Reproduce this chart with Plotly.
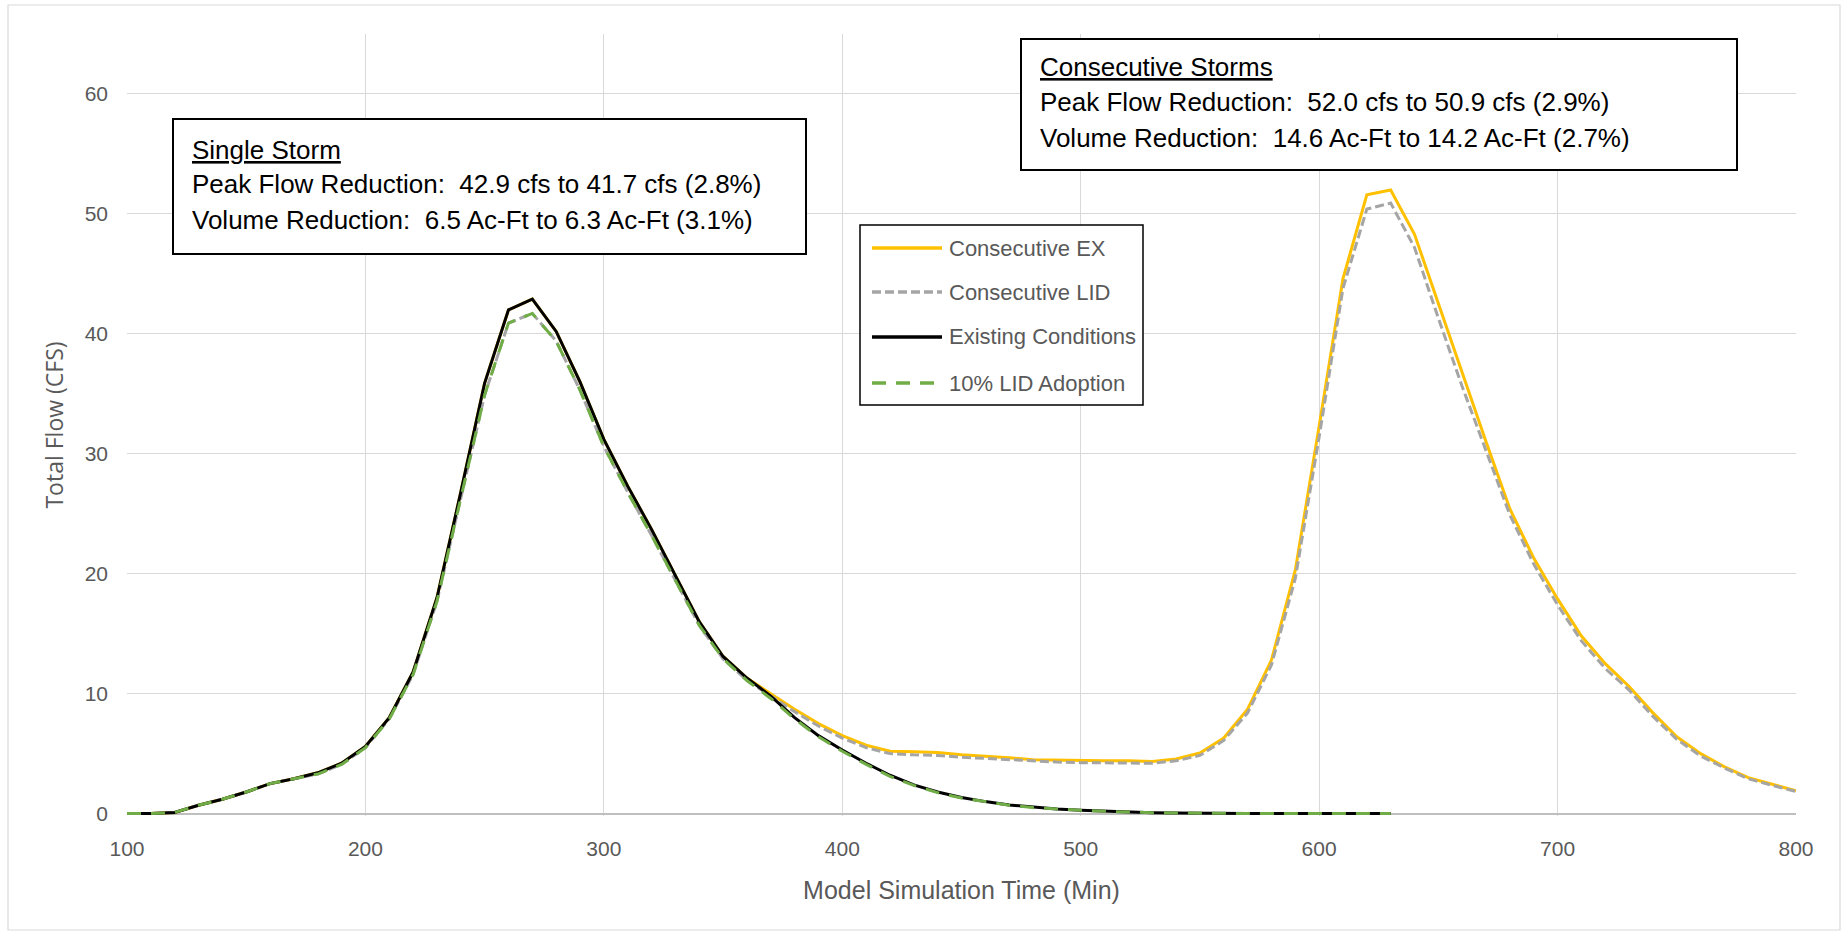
import plotly.graph_objects as go

# ---- data -------------------------------------------------------------
time_single = list(range(100, 631, 10))   # single storm run (min)
time_consec = list(range(100, 801, 10))   # consecutive storm run (min)

existing = [
    0, 0, 0.1, 0.7, 1.2, 1.8, 2.5, 2.9, 3.4, 4.2,
    5.6, 8.0, 11.8, 18.0, 26.8, 35.9, 42.0, 42.9, 40.2, 36.0,
    31.2, 27.3, 23.7, 19.8, 16.0, 13.1, 11.3, 9.8, 8.0, 6.5,
    5.3, 4.2, 3.2, 2.4, 1.8, 1.35, 1.0, 0.72, 0.52, 0.38,
    0.28, 0.2, 0.13, 0.08, 0.05, 0.02, 0.01, 0.01, 0.01, 0.01,
    0.01, 0.01, 0.01, 0.01,
]

lid_10 = [
    0, 0, 0.1, 0.7, 1.2, 1.8, 2.5, 2.9, 3.3, 4.1,
    5.5, 7.9, 11.6, 17.7, 26.3, 34.9, 40.9, 41.7, 39.4, 35.3,
    30.6, 26.8, 23.2, 19.4, 15.7, 12.9, 11.1, 9.6, 7.9, 6.4,
    5.2, 4.1, 3.1, 2.35, 1.75, 1.3, 0.97, 0.7, 0.5, 0.37,
    0.27, 0.19, 0.12, 0.08, 0.05, 0.02, 0.01, 0.01, 0.01, 0.01,
    0.01, 0.01, 0.01, 0.01,
]

consec_ex = [
    0, 0, 0.1, 0.7, 1.2, 1.8, 2.5, 2.9, 3.4, 4.2,
    5.6, 8.0, 11.8, 18.0, 26.8, 35.9, 42.0, 42.9, 40.2, 36.0,
    31.2, 27.3, 23.7, 19.8, 16.0, 13.1, 11.3, 10.0, 8.7, 7.5,
    6.5, 5.7, 5.2, 5.15, 5.1, 4.9, 4.8, 4.65, 4.5, 4.45,
    4.4, 4.4, 4.4, 4.35, 4.55, 5.05, 6.3, 8.7, 12.8, 20.3,
    32.3, 44.6, 51.6, 52.0, 48.3, 42.5, 36.7, 31.0, 25.4, 21.3,
    17.9, 14.8, 12.5, 10.6, 8.4, 6.4, 5.0, 3.9, 3.0, 2.45,
    1.9,
]

consec_lid = [
    0, 0, 0.1, 0.7, 1.2, 1.8, 2.5, 2.9, 3.3, 4.1,
    5.5, 7.9, 11.6, 17.7, 26.3, 34.9, 40.9, 41.7, 39.4, 35.3,
    30.6, 26.8, 23.2, 19.4, 15.7, 12.9, 11.1, 9.8, 8.5, 7.3,
    6.3, 5.5, 5.0, 4.9, 4.85, 4.7, 4.6, 4.45, 4.35, 4.3,
    4.25, 4.25, 4.25, 4.2, 4.4, 4.85, 6.1, 8.4, 12.4, 19.6,
    31.4, 43.8, 50.4, 50.9, 47.2, 41.3, 35.6, 30.2, 24.9, 20.8,
    17.4, 14.4, 12.1, 10.3, 8.1, 6.2, 4.8, 3.8, 2.9, 2.35,
    1.85,
]

x_ticks = [100, 200, 300, 400, 500, 600, 700, 800]
y_ticks = [0, 10, 20, 30, 40, 50, 60]

single_text = [
    "<u>Single Storm</u>",
    "Peak Flow Reduction:  42.9 cfs to 41.7 cfs (2.8%)",
    "Volume Reduction:  6.5 Ac-Ft to 6.3 Ac-Ft (3.1%)",
]
consec_text = [
    "<u>Consecutive Storms</u>",
    "Peak Flow Reduction:  52.0 cfs to 50.9 cfs (2.9%)",
    "Volume Reduction:  14.6 Ac-Ft to 14.2 Ac-Ft (2.7%)",
]

series = [
    # name, x, y, colour, dash
    ("Consecutive EX", time_consec, consec_ex, "#FFC000", "solid"),
    ("Consecutive LID", time_consec, consec_lid, "#A5A5A5", "9px,4px"),
    ("Existing Conditions", time_single, existing, "#000000", "solid"),
    ("10% LID Adoption", time_single, lid_10, "#70AD47", "14px,10px"),
]

# ---- page geometry (pixels) ------------------------------------------
W, H = 1842, 933
ML, MR, MT, MB = 127, 46, 34, 117
PW = W - ML - MR
PH = H - MT - MB

FONT = "Liberation Sans Narrow, Arial Narrow, Liberation Sans, sans-serif"
GREY = "#595959"


def px(x):
    return (x - ML) / PW


def py(y):
    return (H - MB - y) / PH


fig = go.Figure()
for name, xs, ys, colour, dash in series:
    fig.add_trace(go.Scatter(
        x=xs, y=ys, mode="lines", name=name,
        line=dict(color=colour, width=3, dash=dash),
        showlegend=False, hoverinfo="x+y+name",
    ))

shapes = []
annotations = []

# outer chart frame
shapes.append(dict(type="rect", xref="paper", yref="paper",
                   x0=px(8), x1=px(1840), y0=py(930), y1=py(5),
                   line=dict(color="#D9D9D9", width=1.2), layer="below"))


def text_box(x0, y0, x1, y1, lines, tx, ty_list):
    shapes.append(dict(type="rect", xref="paper", yref="paper",
                       x0=px(x0), x1=px(x1), y0=py(y1), y1=py(y0),
                       line=dict(color="black", width=2),
                       fillcolor="white", layer="above"))
    for txt, ty in zip(lines, ty_list):
        annotations.append(dict(xref="paper", yref="paper",
                                x=px(tx), y=py(ty), xanchor="left",
                                yanchor="middle", text=txt, showarrow=False,
                                font=dict(family=FONT, size=26, color="black")))


text_box(173, 119, 806, 254, single_text, 190, [149.5, 184.5, 220])
text_box(1021, 39, 1737, 170, consec_text, 1038, [67, 102, 137.5])

# legend panel
shapes.append(dict(type="rect", xref="paper", yref="paper",
                   x0=px(860), x1=px(1143), y0=py(405), y1=py(225),
                   line=dict(color="black", width=1.5),
                   fillcolor="white", layer="above"))
legend_rows = [248, 292, 337, 383]
for (name, _, _, colour, dash), ry in zip(series, legend_rows):
    shapes.append(dict(type="line", xref="paper", yref="paper",
                       x0=px(872), x1=px(942), y0=py(ry), y1=py(ry),
                       line=dict(color=colour, width=3.5, dash=dash),
                       layer="above"))
    annotations.append(dict(xref="paper", yref="paper",
                            x=px(947), y=py(ry), xanchor="left",
                            yanchor="middle", text=name, showarrow=False,
                            font=dict(family=FONT, size=22, color=GREY)))

fig.update_layout(
    width=W, height=H,
    margin=dict(l=ML, r=MR, t=MT, b=MB),
    paper_bgcolor="white", plot_bgcolor="white",
    shapes=shapes, annotations=annotations,
    showlegend=False,
    xaxis=dict(
        range=[100, 800], tickvals=x_ticks, ticktext=[str(v) for v in x_ticks],
        showgrid=True, gridcolor="#D9D9D9", gridwidth=1.3,
        zeroline=False, showline=False, ticks="",
        tickfont=dict(family=FONT, size=21, color=GREY),
        ticklabelstandoff=18,
        title=dict(text="Model Simulation Time (Min)", standoff=22,
                   font=dict(family=FONT, size=25, color=GREY)),
    ),
    yaxis=dict(
        range=[-0.2, 65], tickvals=y_ticks, ticktext=[str(v) for v in y_ticks],
        showgrid=True, gridcolor="#D9D9D9", gridwidth=1.3,
        zeroline=True, zerolinecolor="#BFBFBF", zerolinewidth=2,
        showline=False, ticks="",
        tickfont=dict(family=FONT, size=21, color=GREY),
        ticklabelstandoff=18,
        title=dict(text="Total Flow (CFS)", standoff=14,
                   font=dict(family="Open Sans, sans-serif", size=23, color=GREY)),
    ),
)

fig.write_html("out.html")
